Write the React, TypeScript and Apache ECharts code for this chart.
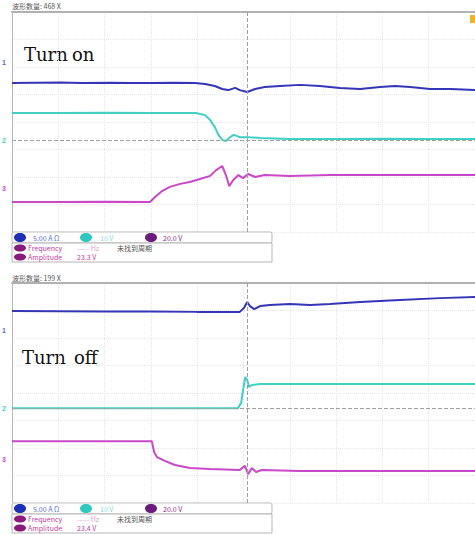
import React, { useEffect, useRef } from "react";
import * as echarts from "echarts";

// x: time in divisions (0..10), y: divisions (-4..4)
const onBlue: number[][] = [[0,1.42],[0.5,1.43],[1.04,1.44],[1.5,1.42],[2.12,1.43],[2.6,1.42],[2.98,1.42],[3.5,1.43],[3.95,1.42],[4.17,1.38],[4.38,1.31],[4.54,1.2],[4.67,1.16],[4.82,1.24],[4.92,1.16],[5.08,1.09],[5.25,1.2],[5.46,1.27],[5.79,1.31],[6.22,1.35],[6.65,1.31],[7.08,1.24],[7.52,1.2],[7.95,1.27],[8.27,1.31],[8.6,1.27],[9.03,1.2],[9.46,1.2],[10,1.16]];
const onCyan: number[][] = [[0,0.33],[1,0.33],[2,0.34],[3,0.33],[3.97,0.33],[4.17,0.25],[4.28,0.07],[4.38,-0.18],[4.45,-0.44],[4.54,-0.65],[4.62,-0.69],[4.71,-0.55],[4.79,-0.47],[4.92,-0.55],[5.08,-0.55],[5.36,-0.58],[6,-0.62],[7,-0.62],[8,-0.61],[9,-0.62],[10,-0.62]];
const onMagenta: number[][] = [[0,-2.91],[1,-2.91],[2,-2.9],[2.98,-2.91],[3.09,-2.73],[3.24,-2.51],[3.41,-2.36],[3.63,-2.25],[3.84,-2.18],[4.06,-2.07],[4.28,-1.96],[4.41,-1.75],[4.54,-1.6],[4.62,-1.93],[4.69,-2.33],[4.78,-2.11],[4.89,-1.93],[4.99,-2.04],[5.1,-1.89],[5.25,-2.0],[5.46,-1.93],[6,-1.96],[6.87,-1.93],[8.38,-1.93],[10,-1.93]];
const onGround = -0.65;

const offBlue: number[][] = [[0,2.98],[1,2.97],[2,2.96],[3,2.96],[4,2.95],[4.92,2.95],[5.01,3.09],[5.08,3.31],[5.14,3.16],[5.23,3.05],[5.36,3.16],[5.57,3.2],[6.0,3.24],[6.44,3.2],[6.87,3.24],[7.52,3.31],[8.38,3.38],[9.24,3.45],[10,3.49]];
const offCyan: number[][] = [[0,-0.55],[2,-0.55],[4.88,-0.55],[4.95,-0.36],[4.99,0.11],[5.04,0.58],[5.08,0.47],[5.12,0.22],[5.18,0.29],[5.36,0.33],[7,0.33],[10,0.33]];
const offMagenta: number[][] = [[0,-1.75],[1.5,-1.75],[3.02,-1.75],[3.07,-2.15],[3.13,-2.33],[3.3,-2.47],[3.52,-2.62],[3.84,-2.73],[4.28,-2.76],[4.92,-2.8],[5.03,-2.65],[5.1,-2.95],[5.18,-2.73],[5.27,-2.87],[5.4,-2.8],[6.22,-2.84],[10,-2.84]];
const offGround = -0.55;

const cursorX = 5.08;
const headers = ["波形数量: 468 X", "波形数量: 199 X"];
const titleOn = ["Turn", "on"];
const titleOff = ["Turn", "off"];
const ch1Scale = "5.00 A Ω";
const ch2Scale = "10 V";
const ch3Scale = "20.0 V";
const amplitudes = ["23.3 V", "23.4 V"];

const BLUE = "#3535b8";
const CYAN = "#3fcfc4";
const MAG = "#c848c8";

export default function App() {
  const ref = useRef<HTMLDivElement>(null);
  useEffect(() => {
    document.body.style.margin = "0";
    const chart = echarts.init(ref.current!, null, { renderer: "svg" });
    const grids = [
      { left: 12, top: 12, width: 463, height: 220 },
      { left: 12, top: 283, width: 463, height: 220 },
    ];
    const split = { show: true, lineStyle: { color: "#e6e6e6", type: "dotted" as const, width: 1 } };
    const xAxes = grids.map((_, i) => ({
      type: "value", gridIndex: i, min: 0, max: 10, interval: 1, position: "top",
      axisLine: { show: true, onZero: false, lineStyle: { color: "#b0b0b0", width: 2 } },
      axisTick: { show: false }, axisLabel: { show: false }, splitLine: split,
    }));
    const yAxes = grids.map((_, i) => ({
      type: "value", gridIndex: i, min: -4, max: 4, interval: 1,
      axisLine: { show: true, onZero: false, lineStyle: { color: "#b8b8b8", width: 1 } },
      axisTick: { show: false }, axisLabel: { show: false }, splitLine: split,
    }));
    const line = (data: number[][], color: string, idx: number, extra: any = {}) => ({
      type: "line", xAxisIndex: idx, yAxisIndex: idx, data, showSymbol: false,
      lineStyle: { color, width: 2 }, itemStyle: { color }, z: 3, ...extra,
    });
    const marks = (ground: number) => ({
      markLine: {
        silent: true, symbol: "none", label: { show: false },
        lineStyle: { color: "#a0a0a0", type: "dashed", width: 1 },
        data: [{ xAxis: cursorX }, { yAxis: ground }],
      },
    });

    const legend = (top: number, amp: string) => {
      const t = (x: number, y: number, text: string, fill: string) => ({
        type: "text", x, y, style: { text, fill, font: "7px 'Noto Sans CJK SC', sans-serif", verticalAlign: "middle" },
      });
      const el = (cx: number, cy: number, fill: string, ry = 4.5) => ({
        type: "ellipse", shape: { cx, cy, rx: 6, ry }, style: { fill },
      });
      return [
        { type: "rect", shape: { x: 12, y: top, width: 260, height: 11, r: 2 }, style: { fill: "#fff", stroke: "#b5b5b5", lineWidth: 1 } },
        el(20, top + 5.5, "#1c2fb5"), t(33, top + 5.5, ch1Scale, "#4f6fd8"),
        el(86, top + 5.5, "#2ec8c0"), t(100, top + 5.5, ch2Scale, "#7fe0d8"),
        el(151, top + 5.5, "#6c1a7c"), t(163, top + 5.5, ch3Scale, "#8a2a8a"),
        { type: "rect", shape: { x: 12, y: top + 11, width: 260, height: 19 }, style: { fill: "#fff", stroke: "#b5b5b5", lineWidth: 1 } },
        el(20, top + 16, "#8a1a7c", 3.5), t(28, top + 16, "Frequency", "#c03aa0"),
        t(77, top + 16, "----- Hz", "#e39ad0"), t(117, top + 16, "未找到周期", "#555"),
        el(20, top + 25, "#8a1a7c", 3.5), t(28, top + 25, "Amplitude", "#c03aa0"),
        t(77, top + 25, amp, "#c03aa0"),
      ];
    };
    const chMark = (y: number, text: string, fill: string) => ({
      type: "text", x: 2, y, style: { text, fill, font: "bold 7px sans-serif", verticalAlign: "middle" },
    });
    const word = (x: number, y: number, text: string) => ({
      type: "text", x, y, style: { text, fill: "#111", font: "18px 'DejaVu Serif', serif", verticalAlign: "middle" },
    });

    chart.setOption({
      animation: false,
      backgroundColor: "#fff",
      grid: grids,
      xAxis: xAxes,
      yAxis: yAxes,
      series: [
        line(onBlue, BLUE, 0),
        line(onCyan, CYAN, 0, marks(onGround)),
        line(onMagenta, MAG, 0),
        line(offBlue, BLUE, 1),
        line(offCyan, CYAN, 1, marks(offGround)),
        line(offMagenta, MAG, 1),
      ],
      graphic: [
        { type: "text", x: 12, y: 6, style: { text: headers[0], fill: "#555", font: "7px 'Noto Sans CJK SC', sans-serif", verticalAlign: "middle" } },
        { type: "text", x: 12, y: 278, style: { text: headers[1], fill: "#555", font: "7px 'Noto Sans CJK SC', sans-serif", verticalAlign: "middle" } },
        word(24, 54, titleOn[0]), word(72, 54, titleOn[1]),
        word(22, 357, titleOff[0]), word(74, 357, titleOff[1]),
        chMark(62, "1", "#5a6ad0"), chMark(140, "2", CYAN), chMark(188, "3", MAG),
        chMark(330, "1", "#5a6ad0"), chMark(408, "2", CYAN), chMark(459, "3", MAG),
        { type: "polygon", shape: { points: [[470, 15], [475, 15], [475, 23], [470, 23]] }, style: { fill: "#f0b030" } },
        ...legend(232, amplitudes[0]),
        ...legend(503, amplitudes[1]),
      ],
    });
    return () => chart.dispose();
  }, []);
  return <div ref={ref} style={{ width: 475, height: 534 }} />;
}
